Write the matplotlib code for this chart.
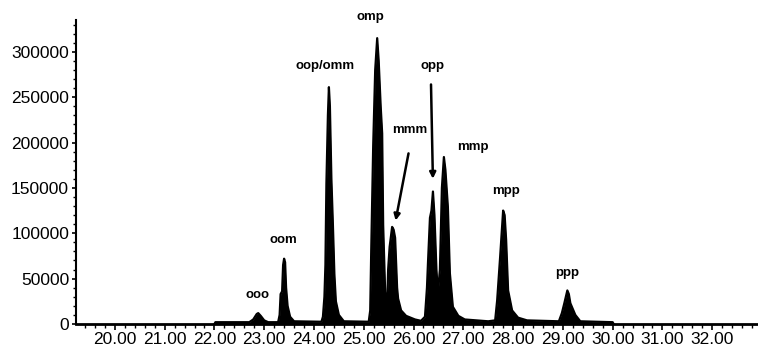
import matplotlib
matplotlib.use("Agg")
import matplotlib.pyplot as plt
from matplotlib.ticker import MultipleLocator, FuncFormatter

plt.rcParams['font.family'] = ['Liberation Sans', 'DejaVu Sans']

# trace (retention time in min, abundance)
rt = [22.00, 22.02, 22.70, 22.78, 22.85, 22.88, 22.93, 23.00, 23.08,
      23.28, 23.31, 23.33, 23.36, 23.38, 23.40, 23.42, 23.44, 23.47, 23.52, 23.60,
      24.15, 24.18, 24.21, 24.23, 24.25, 24.28, 24.30, 24.32, 24.35, 24.38, 24.41, 24.44, 24.50, 24.60,
      25.10, 25.13, 25.15, 25.19, 25.23, 25.27, 25.30, 25.34, 25.37, 25.39, 25.43, 25.47,
      25.49, 25.52, 25.57, 25.60, 25.63, 25.67, 25.69, 25.75, 25.85, 26.03, 26.15,
      26.23, 26.27, 26.29, 26.33, 26.36, 26.39, 26.42, 26.46, 26.49,
      26.53, 26.57, 26.61, 26.64, 26.69, 26.73, 26.79, 26.90, 27.03, 27.50,
      27.64, 27.68, 27.74, 27.80, 27.83, 27.86, 27.90, 27.98, 28.10, 28.28,
      28.92, 28.98, 29.03, 29.09, 29.12, 29.15, 29.25, 29.35,
      30.00, 30.02]
signal = [0, 2000, 2000, 5000, 11000, 12000, 9000, 4000, 2000,
          2000, 10000, 33000, 36000, 65000, 72000, 68000, 40000, 20000, 8000, 3000,
          2500, 8000, 30000, 65000, 155000, 230000, 261000, 240000, 160000, 110000, 55000, 25000, 10000, 3000,
          2500, 15000, 80000, 197000, 280000, 315000, 290000, 240000, 210000, 109000, 35000, 22000,
          60000, 85000, 107000, 104000, 95000, 40000, 28000, 15000, 9000, 5000, 3500,
          8000, 40000, 67000, 117000, 125000, 146000, 120000, 60000, 34000,
          60000, 150000, 184000, 170000, 129000, 56000, 19000, 9000, 5000, 3000,
          4000, 26000, 74000, 125000, 120000, 93000, 37000, 15000, 7000, 4000,
          3000, 12000, 23000, 37000, 33000, 23000, 10000, 3000,
          2000, 0]

# peak labels
peak_names = ["ooo", "oom", "oop/omm", "omp", "mmm", "opp", "mmp", "mpp", "ppp"]
label_rt = [22.87, 23.38, 24.22, 25.13, 25.93, 26.39, 27.20, 27.86, 29.09]
label_y = [32000, 92600, 284600, 338600, 214000, 284600, 195000, 146700, 56000]

fig = plt.figure(figsize=(7.58, 3.49), dpi=100)
ax = fig.add_axes([0.1003, 0.0716, 0.8997, 0.8711])

ax.fill_between(rt, signal, 0, color='black', linewidth=0)
ax.plot(rt, signal, color='black', linewidth=1.6)

for name, x, y in zip(peak_names, label_rt, label_y):
    ax.text(x, y, name, ha='center', va='center', fontsize=9.5, fontweight='bold',
            clip_on=False)

# arrows to mmm and opp
ax.annotate("", xy=(25.63, 111000), xytext=(25.91, 191000),
            arrowprops=dict(arrowstyle='-|>', color='black', lw=1.8, mutation_scale=9))
ax.annotate("", xy=(26.39, 157000), xytext=(26.35, 267000),
            arrowprops=dict(arrowstyle='-|>', color='black', lw=1.8, mutation_scale=9))

ax.set_xlim(19.22, 32.92)
ax.set_ylim(0, 335000)
ax.xaxis.set_major_locator(MultipleLocator(1))
ax.xaxis.set_minor_locator(MultipleLocator(0.2))
ax.xaxis.set_major_formatter(FuncFormatter(lambda v, p: f"{v:.2f}" if v <= 32.5 else ""))
ax.yaxis.set_major_locator(MultipleLocator(50000))
ax.yaxis.set_minor_locator(MultipleLocator(10000))

ax.spines['top'].set_visible(False)
ax.spines['right'].set_visible(False)
ax.spines['left'].set_linewidth(1.5)
ax.spines['bottom'].set_linewidth(2)
ax.tick_params(axis='x', which='major', length=4, width=1.2, pad=2, labelsize=12.5)
ax.tick_params(axis='x', which='minor', length=3, width=1)
ax.tick_params(axis='y', which='major', length=3, width=1.2, pad=2, labelsize=12.5)
ax.tick_params(axis='y', which='minor', length=2, width=1)

fig.savefig("out.png", dpi=100)
